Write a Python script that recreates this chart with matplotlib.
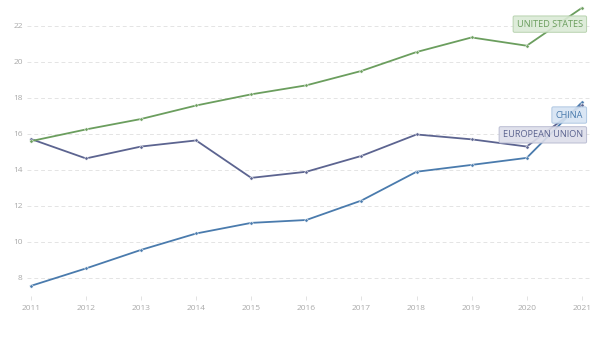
import numpy as np
import matplotlib.pyplot as plt

plt.rcParams['font.family'] = ['Open Sans', 'DejaVu Sans']

years = list(range(2011, 2022))
united_states  = [15.6, 16.25, 16.83, 17.58, 18.2, 18.7, 19.5, 20.55, 21.36, 20.9, 23.0]
european_union = [15.72, 14.64, 15.3, 15.64, 13.56, 13.9, 14.78, 15.97, 15.7, 15.3, 17.6]
china          = [7.56, 8.53, 9.56, 10.47, 11.06, 11.22, 12.3, 13.9, 14.28, 14.67, 17.75]
yticks = [8, 10, 12, 14, 16, 18, 20, 22]

c_us = "#6b9e5e"
c_eu = "#5c6490"
c_cn = "#4a7bad"

fig = plt.figure(figsize=(6, 3.37), dpi=100)
ax = fig.add_axes([0.045, 0.11, 0.938, 0.89])

for vals, col in [(china, c_cn), (european_union, c_eu), (united_states, c_us)]:
    ax.plot(years, vals, color=col, lw=1.3, marker='o', ms=2.4,
            mfc=col, mec='white', mew=0.4, zorder=3)

ax.set_xlim(2010.93, 2021.145)
ax.set_ylim(6.78, 23.44)
ax.set_xticks(years)
ax.set_yticks(yticks)
ax.tick_params(axis='y', length=0, labelsize=6, labelcolor='#aaaaaa', pad=3)
ax.tick_params(axis='x', length=3, width=0.6, color='#dddddd', labelsize=6,
               labelcolor='#aaaaaa', pad=4, direction='in')
ax.grid(axis='y', color='#e4e4e4', ls=(0, (4, 3)), lw=0.7)
for s in ax.spines.values():
    s.set_visible(False)

def tag(y, text, col, face, edge):
    ax.text(2021.02, y, text, ha='right', va='center', fontsize=6.6, color=col,
            zorder=5, bbox=dict(boxstyle='round,pad=0.4,rounding_size=0.15',
                                fc=face, ec=edge, lw=0.7, alpha=0.9))

tag(22.1, "UNITED STATES", c_us, "#dbead6", "#b2cfa9")
tag(17.05, "CHINA", c_cn, "#d6e4f3", "#a9c3e0")
tag(15.95, "EUROPEAN UNION", c_eu, "#dddeea", "#b5b8cf")

plt.savefig("out.png", dpi=100)
